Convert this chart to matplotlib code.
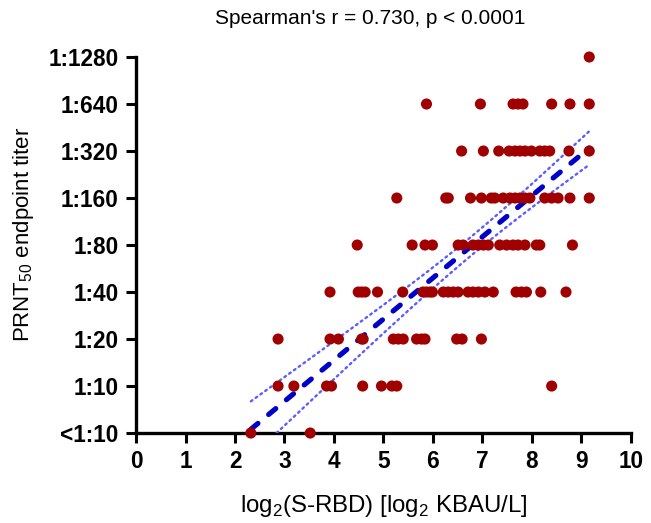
import numpy as np
import matplotlib
matplotlib.use("Agg")
import matplotlib.pyplot as plt

plt.rcParams['font.family'] = ['Liberation Sans', 'DejaVu Sans']
plt.rcParams['mathtext.fontset'] = 'custom'
plt.rcParams['mathtext.rm'] = 'Liberation Sans'

# titer level index: 0 = <1:10, 1 = 1:10, ... 8 = 1:1280
tick_labels = ['<1:10', '1:10', '1:20', '1:40', '1:80', '1:160', '1:320', '1:640', '1:1280']

x_lvl0 = [2.32, 3.52]
x_lvl1 = [2.87, 3.19, 3.85, 3.95, 4.58, 4.96, 5.17, 5.27, 8.40]
x_lvl2 = [2.87, 3.92, 4.09, 4.56, 4.59, 5.20, 5.30, 5.40, 5.67, 5.77, 5.84, 6.48, 6.59, 6.98]
x_lvl3 = [3.92, 4.49, 4.56, 4.63, 4.88, 5.39, 5.80, 5.87, 5.94, 5.99, 6.21, 6.31, 6.41,
          6.51, 6.71, 6.81, 6.92, 7.05, 7.22, 7.68, 7.79, 7.89, 8.18, 8.69]
x_lvl4 = [4.47, 5.58, 5.84, 5.99, 6.51, 6.61, 6.81, 6.92, 7.02, 7.12, 7.35, 7.49, 7.62,
          7.72, 7.86, 8.09, 8.16, 8.82]
x_lvl5 = [5.27, 6.26, 6.31, 6.76, 6.98, 7.18, 7.25, 7.42, 7.56, 7.66, 7.76, 7.86, 7.96,
          8.26, 8.40, 8.53, 8.77, 9.16]
x_lvl6 = [6.58, 7.02, 7.33, 7.54, 7.66, 7.76, 7.86, 7.99, 8.16, 8.26, 8.36, 8.75, 9.16]
x_lvl7 = [5.87, 6.96, 7.62, 7.72, 7.82, 8.40, 8.77, 9.16]
x_lvl8 = [9.16]

# regression line and 95% confidence band
fit_slope = 0.875
fit_intercept = -1.95
ci_min_halfwidth = 0.20
ci_center_x = 6.8
ci_growth = 0.125

groups = [x_lvl0, x_lvl1, x_lvl2, x_lvl3, x_lvl4, x_lvl5, x_lvl6, x_lvl7, x_lvl8]
xs = np.concatenate([np.array(g) for g in groups])
ys = np.concatenate([np.full(len(g), i, dtype=float) for i, g in enumerate(groups)])

fig = plt.figure(figsize=(6.51, 5.23), dpi=100)
ax = fig.add_axes([0.209, 0.172, 0.76, 0.719])

xf = np.linspace(xs.min(), xs.max(), 300)
yf = fit_intercept + fit_slope * xf
hw = np.sqrt(ci_min_halfwidth**2 + (ci_growth * (xf - ci_center_x))**2)
band_kw = dict(color='#5c5cff', lw=1.7, ls=(0, (0.8, 1.7)), dash_capstyle='round', zorder=3)
ax.plot(xf, yf + hw, **band_kw)
ax.plot(xf, yf - hw, **band_kw)
ax.plot(xf, yf, color='#0000c8', lw=3.7, ls=(0, (1.8, 2.7)), dash_capstyle='round', zorder=4)

ax.scatter(xs, ys, s=64, color='#a00000', edgecolors='none', zorder=5, clip_on=False)

ax.set_xlim(0, 10)
ax.set_ylim(0, 8)
ax.set_xticks(range(0, 11))
ax.set_yticks(range(9))
ax.set_yticklabels(tick_labels)
for lab in ax.get_xticklabels() + ax.get_yticklabels():
    lab.set_fontweight('bold')
    lab.set_fontsize(16.3)
ax.tick_params(axis='both', width=2.2, length=7.5, color='black')
ax.tick_params(axis='x', pad=5)
ax.tick_params(axis='y', pad=5)
for side in ['top', 'right']:
    ax.spines[side].set_visible(False)
for side in ['left', 'bottom']:
    ax.spines[side].set_linewidth(2.4)

ax.set_xlabel(r'log$_2$(S-RBD) [log$_2$ KBAU/L]', fontsize=17.3, labelpad=14)
ax.set_ylabel(r'PRNT$_{50}$ endpoint titer', fontsize=16)
ax.yaxis.set_label_coords(-0.203, 0.527)
fig.text(370.5 / 651, 1 - 18 / 523, "Spearman's r = 0.730, p < 0.0001",
         fontsize=15, ha='center', va='center')

fig.savefig('out.png', dpi=100)
